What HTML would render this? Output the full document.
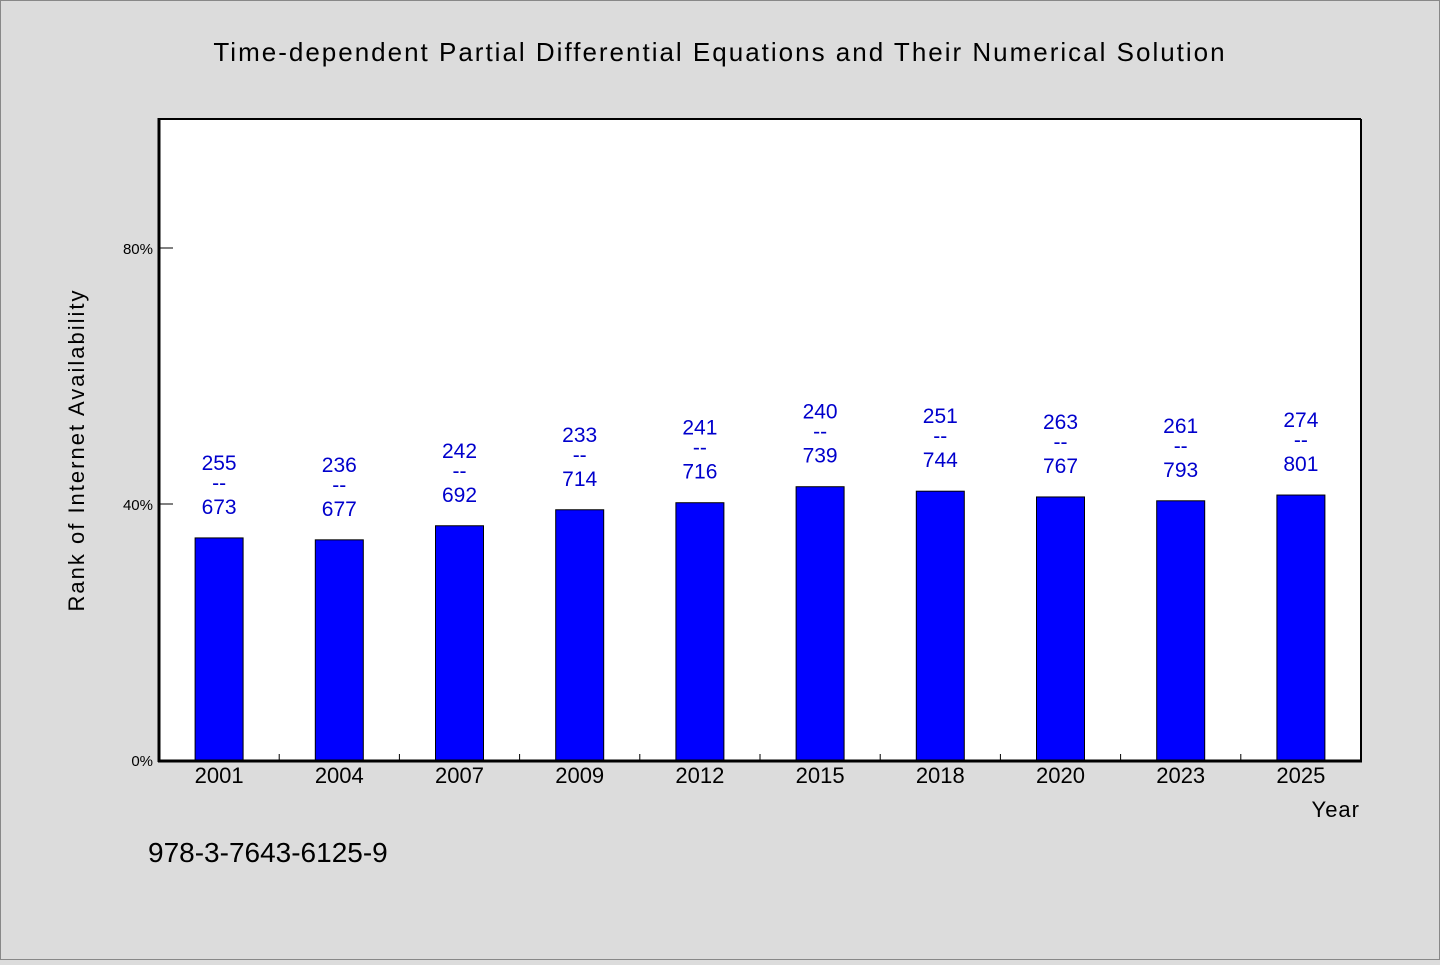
<!DOCTYPE html>
<html><head><meta charset="utf-8"><style>
body{margin:0;width:1440px;height:960px;background:#dcdcdc;overflow:hidden}
svg text{font-family:"WenQuanYi Zen Hei","Liberation Sans",sans-serif}
</style></head><body>
<svg id="chart" width="1440" height="960" xmlns="http://www.w3.org/2000/svg">
<rect x="0.5" y="0.5" width="1439" height="959" fill="#dcdcdc" stroke="#888"/>
<text x="720" y="61" text-anchor="middle" font-size="26" letter-spacing="2" fill="#000">Time-dependent Partial Differential Equations and Their Numerical Solution</text>
<rect x="159" y="119" width="1202" height="642" fill="#fff"/>
<g id="bars"></g>
<line x1="159" y1="119" x2="1361" y2="119" stroke="#000" stroke-width="2"/>
<line x1="1361" y1="119" x2="1361" y2="761" stroke="#000" stroke-width="2"/>
<line x1="159" y1="118" x2="159" y2="762" stroke="#000" stroke-width="3"/>
<line x1="158" y1="761" x2="1362" y2="761" stroke="#000" stroke-width="3"/>
<text transform="translate(84,450) rotate(-90)" text-anchor="middle" font-size="22" letter-spacing="2">Rank of Internet Availability</text>
<text x="1360" y="817" text-anchor="end" font-size="22" letter-spacing="1">Year</text>
<text x="148" y="862" font-size="28">978-3-7643-6125-9</text>
</svg>
<script>
const years=["2001","2004","2007","2009","2012","2015","2018","2020","2023","2025"];
const values=[34.7,34.4,36.6,39.1,40.2,42.7,42.0,41.1,40.5,41.4];
const topLabels=["255","236","242","233","241","240","251","263","261","274"];
const bottomLabels=["673","677","692","714","716","739","744","767","793","801"];
const yTicks=[0,40,80];
const yTickLabels=["0%","40%","80%"];
const NS="http://www.w3.org/2000/svg";
const svg=document.getElementById('chart');
const g=document.getElementById('bars');
const x0=159,x1=1361,yBase=760,pxPer=6.4;
const step=(x1-x0)/years.length;
function xs(i){return x0+step*(i+0.5);}
function ys(v){return yBase-v*pxPer;}
function mk(tag,attrs,parent){const e=document.createElementNS(NS,tag);for(const k in attrs)e.setAttribute(k,attrs[k]);(parent||svg).appendChild(e);return e;}
yTicks.forEach((t,i)=>{
 const l=mk('line',{x1:x0,x2:x0+14,y1:ys(t),y2:ys(t),stroke:'#000','stroke-width':1});
 
 
 const tx=mk('text',{x:153,y:ys(t)+6,'text-anchor':'end','font-size':15});
 tx.textContent=yTickLabels[i];
 
 
});
for(let i=1;i<years.length;i++){
 const l=mk('line',{x1:x0+step*i,x2:x0+step*i,y1:754,y2:761,stroke:'#000','stroke-width':1});
 
 
}
years.forEach((y,i)=>{
 const cx=xs(i),top=ys(values[i]);
 const r=mk('rect',{x:cx-24,y:top,width:48,height:yBase-top,fill:'#0000ff',stroke:'#000','stroke-width':1},g);
 
 
 const t1=mk('text',{x:cx,y:top-68,'text-anchor':'middle','font-size':21,fill:'#0000cc'});
 t1.textContent=topLabels[i];
 
 
 const t2=mk('text',{x:cx,y:top-48,'text-anchor':'middle','font-size':21,fill:'#0000cc'});
 t2.textContent="--";
 
 
 const t3=mk('text',{x:cx,y:top-24,'text-anchor':'middle','font-size':21,fill:'#0000cc'});
 t3.textContent=bottomLabels[i];
 
 
 const xl=mk('text',{x:cx,y:783,'text-anchor':'middle','font-size':22});
 xl.textContent=y;
 
 
});
</script>
</body></html>
